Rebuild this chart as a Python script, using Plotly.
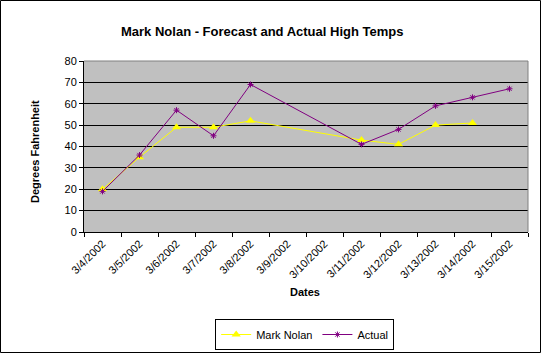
import plotly.graph_objects as go

dates = ["3/4/2002", "3/5/2002", "3/6/2002", "3/7/2002", "3/8/2002", "3/9/2002",
         "3/10/2002", "3/11/2002", "3/12/2002", "3/13/2002", "3/14/2002", "3/15/2002"]
mark_nolan = [20, 35, 49, 49, 52, None, None, 43, 41, 50, 51, None]
actual = [19, 36, 57, 45, 69, None, None, 41, 48, 59, 63, 67]
y_ticks = [0, 10, 20, 30, 40, 50, 60, 70, 80]

FW, FH = 543, 354
L, R, T, B = 84, 15, 61, 122
W = FW - L - R
H = FH - T - B


def px(x):
    return (x - L) / W


def py(y):
    return (FH - B - y) / H


FONT = "Arial, Liberation Sans, sans-serif"

fig = go.Figure()
fig.add_trace(go.Scatter(
    x=dates, y=mark_nolan, name="Mark Nolan", mode="lines+markers",
    connectgaps=True,
    line=dict(color="#FFFF00", width=1),
    marker=dict(symbol="triangle-up", size=8, color="#FFFF00"),
))
fig.add_trace(go.Scatter(
    x=dates, y=actual, name="Actual", mode="lines+markers",
    connectgaps=True,
    line=dict(color="#800080", width=1),
    marker=dict(symbol="asterisk-open", size=5, color="#800080",
                line=dict(color="#800080", width=1)),
))

fig.update_layout(
    width=FW, height=FH,
    margin=dict(l=L, r=R, t=T, b=B, autoexpand=False),
    paper_bgcolor="white",
    plot_bgcolor="#C0C0C0",
    font=dict(family=FONT, size=11, color="black"),
    showlegend=True,
    legend=dict(
        orientation="h", x=0.497, xanchor="center", y=py(334.5), yanchor="middle",
        bordercolor="black", borderwidth=1, bgcolor="white",
        font=dict(family=FONT, size=11, color="black"),
        tracegroupgap=0,
    ),
)
fig.update_xaxes(
    type="category", categoryorder="array", categoryarray=dates,
    tickson="boundaries", ticks="outside", ticklen=4, tickcolor="black",
    showline=True, linecolor="black", linewidth=1,
    showgrid=False, tickangle=-45, automargin=False,
    tickfont=dict(family=FONT, size=11, color="black"),
    range=[-0.5, len(dates) - 0.5], fixedrange=True,
)
fig.update_yaxes(
    range=[0, 80], tickvals=y_ticks, ticks="outside", ticklen=4, tickcolor="black",
    showline=True, linecolor="black", linewidth=1, automargin=False,
    showgrid=True, gridcolor="black", gridwidth=1, zeroline=False,
    tickfont=dict(family=FONT, size=11, color="black"),
)

shapes = [
    dict(type="line", xref="paper", yref="paper", x0=0, x1=1, y0=1, y1=1,
         line=dict(color="#808080", width=1), layer="above"),
    dict(type="line", xref="paper", yref="paper", x0=1, x1=1, y0=0, y1=1,
         line=dict(color="#808080", width=1), layer="above"),
    dict(type="rect", xref="paper", yref="paper", x0=px(0.5), x1=px(540.5),
         y0=py(352.5), y1=py(0.5), line=dict(color="black", width=1)),
]
fig.update_layout(shapes=shapes)

fig.add_annotation(text="<b>Mark Nolan - Forecast and Actual High Temps</b>",
                   xref="paper", yref="paper", x=px(262), y=py(22),
                   showarrow=False, font=dict(family=FONT, size=13, color="black"))
fig.add_annotation(text="<b>Dates</b>", xref="paper", yref="paper",
                   x=px(305), y=py(300), showarrow=False,
                   font=dict(family=FONT, size=11, color="black"))
fig.add_annotation(text="<b>Degrees Fahrenheit</b>", xref="paper", yref="paper",
                   x=px(27), y=py(152), showarrow=False, textangle=-90,
                   font=dict(family=FONT, size=11, color="black"))

fig.write_html("out.html")
